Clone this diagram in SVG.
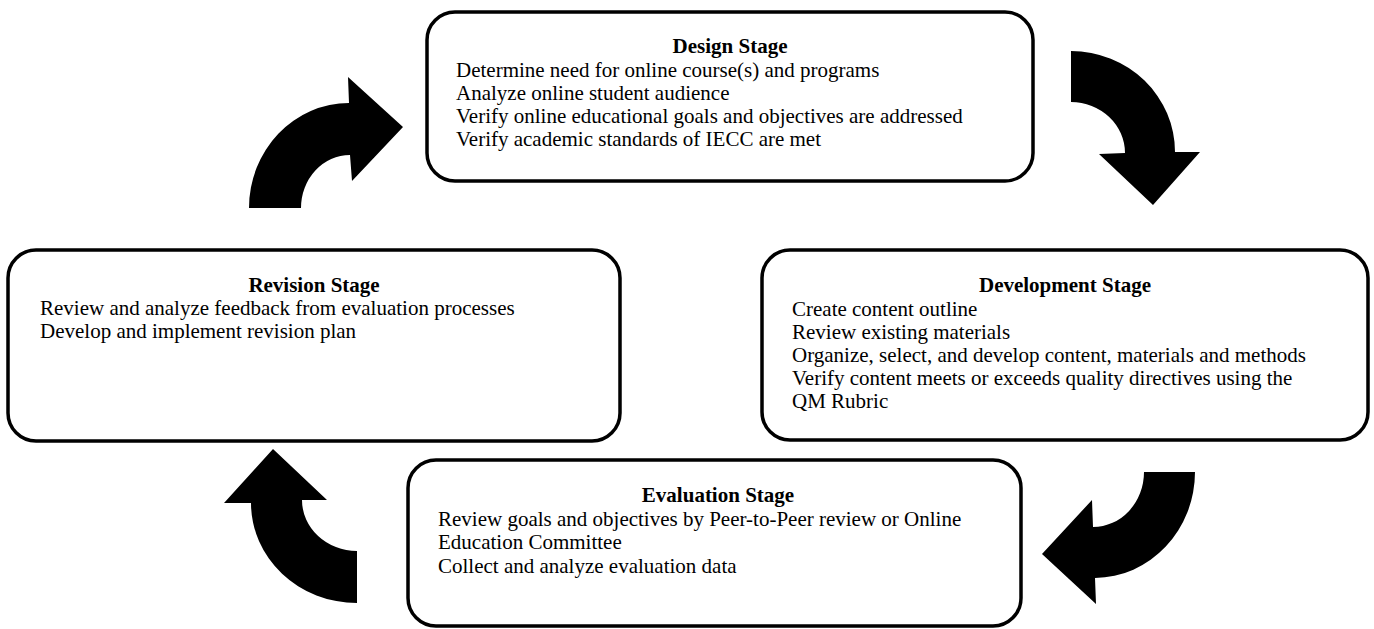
<svg xmlns="http://www.w3.org/2000/svg" width="1374" height="629" viewBox="0 0 1374 629">
<style>
.box{fill:#fff;stroke:#000;stroke-width:3.5}
.t{font-family:"Liberation Serif","Times New Roman",serif;font-size:21px;fill:#000}
.h{font-weight:bold;text-anchor:middle}
.arr{fill:#000}
</style>
<rect width="1374" height="629" fill="#fff"/>
<g id="connectors">
<path class="arr" d="M249,208 A100,105 0 0 1 349,103 L348,77 L403,127 L352,181 L350,155 A49,53 0 0 0 301,208 Z"/>
<path class="arr" d="M1071,51 A104,101 0 0 1 1175,152 L1200,152 L1153,205 L1099,154 L1125,153 A54,51 0 0 0 1071,102 Z"/>
<path class="arr" d="M1195,472 A101,106 0 0 1 1095,578 L1096,604 L1042,554 L1092,500 L1093,527 A51,55 0 0 0 1144,472 Z"/>
<path class="arr" d="M357,603 A106,100 0 0 1 251,503 L224,503 L273,449 L327,500 L302,500 A55,51 0 0 0 357,551 Z"/>
</g>
<g id="design">
<rect class="box" x="427" y="12" width="606" height="169" rx="28"/>
<text class="t h" x="730" y="53">Design Stage</text>
<text class="t" x="456" y="77">Determine need for online course(s) and programs</text>
<text class="t" x="456" y="100">Analyze online student audience</text>
<text class="t" x="456" y="123">Verify online educational goals and objectives are addressed</text>
<text class="t" x="456" y="146">Verify academic standards of IECC are met</text>
</g>
<g id="development">
<rect class="box" x="762" y="250" width="606" height="190" rx="28"/>
<text class="t h" x="1065" y="292">Development Stage</text>
<text class="t" x="792" y="316">Create content outline</text>
<text class="t" x="792" y="339">Review existing materials</text>
<text class="t" x="792" y="362">Organize, select, and develop content, materials and methods</text>
<text class="t" x="792" y="385">Verify content meets or exceeds quality directives using the</text>
<text class="t" x="792" y="408">QM Rubric</text>
</g>
<g id="revision">
<rect class="box" x="8" y="250" width="612" height="191" rx="28"/>
<text class="t h" x="314" y="292">Revision Stage</text>
<text class="t" x="40" y="315">Review and analyze feedback from evaluation processes</text>
<text class="t" x="40" y="338">Develop and implement revision plan</text>
</g>
<g id="evaluation">
<rect class="box" x="408" y="460" width="613" height="166" rx="28"/>
<text class="t h" x="718" y="502">Evaluation Stage</text>
<text class="t" x="438" y="526">Review goals and objectives by Peer-to-Peer review or Online</text>
<text class="t" x="438" y="549">Education Committee</text>
<text class="t" x="438" y="573">Collect and analyze evaluation data</text>
</g>
</svg>
